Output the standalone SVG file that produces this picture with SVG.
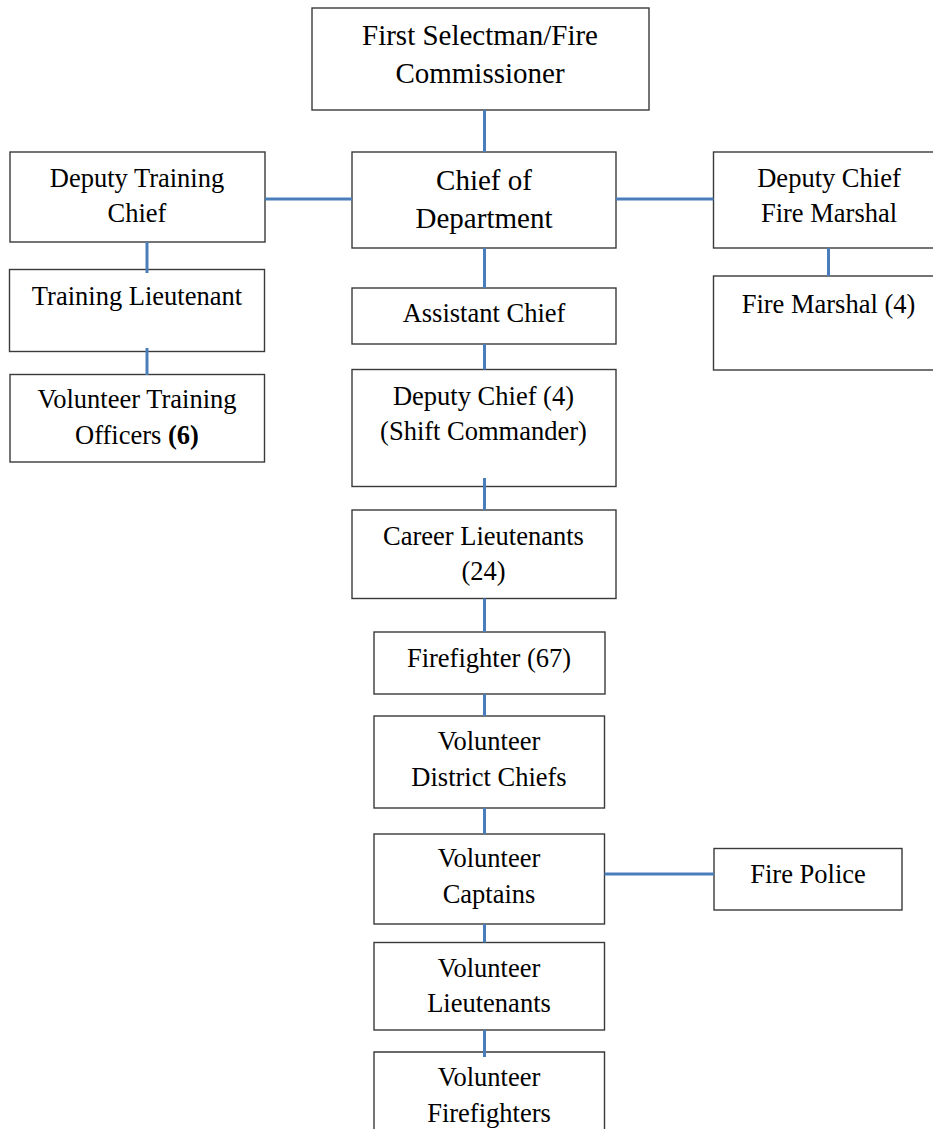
<svg xmlns="http://www.w3.org/2000/svg" width="933" height="1139" viewBox="0 0 933 1139">
  <style>
    .box { fill: #ffffff; stroke: #3a3a3a; stroke-width: 1.4; }
    .lbl { font-family: "Liberation Serif", "Times New Roman", serif; font-size: 26.5px; fill: #000000; text-anchor: middle; }
    .big { font-size: 29px; }
    .link { stroke: #4a7ebb; stroke-width: 3; fill: none; }
  </style>
  <rect width="933" height="1139" fill="#ffffff"/>

  <g id="first-selectman">
    <rect class="box" x="312" y="8" width="337" height="102"/>
    <text class="lbl big" x="480" y="45">First Selectman/Fire</text>
    <text class="lbl big" x="480" y="83">Commissioner</text>
  </g>

  <g id="chief-of-department">
    <rect class="box" x="352" y="152" width="264" height="96"/>
    <text class="lbl big" x="484" y="190">Chief of</text>
    <text class="lbl big" x="484" y="228">Department</text>
  </g>

  <g id="deputy-training-chief">
    <rect class="box" x="10" y="152" width="255" height="90"/>
    <text class="lbl" x="137" y="187">Deputy Training</text>
    <text class="lbl" x="137" y="222">Chief</text>
  </g>

  <g id="training-lieutenant">
    <rect class="box" x="9.5" y="269.5" width="255" height="82"/>
    <text class="lbl" x="137" y="305">Training Lieutenant</text>
  </g>

  <g id="volunteer-training-officers">
    <rect class="box" x="10" y="374.5" width="254.5" height="87.5"/>
    <text class="lbl" x="137" y="408">Volunteer Training</text>
    <text class="lbl" x="137" y="444">Officers <tspan font-weight="bold">(6)</tspan></text>
  </g>

  <g id="deputy-chief-fire-marshal">
    <rect class="box" x="713.5" y="152" width="232" height="96"/>
    <text class="lbl" x="829" y="187">Deputy Chief</text>
    <text class="lbl" x="829" y="222">Fire Marshal</text>
  </g>

  <g id="fire-marshal">
    <rect class="box" x="713.5" y="276" width="232" height="94"/>
    <text class="lbl" x="828.5" y="313">Fire Marshal (4)</text>
  </g>

  <g id="assistant-chief">
    <rect class="box" x="352" y="288" width="264" height="56"/>
    <text class="lbl" x="484" y="322">Assistant Chief</text>
  </g>

  <g id="deputy-chief-shift">
    <rect class="box" x="352" y="369.5" width="264" height="117"/>
    <text class="lbl" x="483.5" y="405">Deputy Chief (4)</text>
    <text class="lbl" x="483.5" y="440">(Shift Commander)</text>
  </g>

  <g id="career-lieutenants">
    <rect class="box" x="352" y="510" width="264" height="88.5"/>
    <text class="lbl" x="483.5" y="545">Career Lieutenants</text>
    <text class="lbl" x="483.5" y="580">(24)</text>
  </g>

  <g id="firefighter">
    <rect class="box" x="374" y="632" width="231" height="62"/>
    <text class="lbl" x="489" y="667">Firefighter (67)</text>
  </g>

  <g id="volunteer-district-chiefs">
    <rect class="box" x="374" y="716" width="230.5" height="92"/>
    <text class="lbl" x="489" y="750">Volunteer</text>
    <text class="lbl" x="489" y="786">District Chiefs</text>
  </g>

  <g id="volunteer-captains">
    <rect class="box" x="374" y="834" width="230.5" height="90"/>
    <text class="lbl" x="489" y="867">Volunteer</text>
    <text class="lbl" x="489" y="903">Captains</text>
  </g>

  <g id="fire-police">
    <rect class="box" x="714" y="848.5" width="188" height="61.5"/>
    <text class="lbl" x="808" y="883">Fire Police</text>
  </g>

  <g id="volunteer-lieutenants">
    <rect class="box" x="374" y="942.5" width="230.5" height="87.5"/>
    <text class="lbl" x="489" y="977">Volunteer</text>
    <text class="lbl" x="489" y="1012">Lieutenants</text>
  </g>

  <g id="volunteer-firefighters">
    <path class="box" d="M374,1129 V1052 H604.5 V1129"/>
    <text class="lbl" x="489" y="1086">Volunteer</text>
    <text class="lbl" x="489" y="1122">Firefighters</text>
  </g>

  <g id="connectors">
    <line class="link" x1="484.5" y1="110" x2="484.5" y2="152"/>
    <line class="link" x1="265" y1="199" x2="352" y2="199"/>
    <line class="link" x1="616" y1="199" x2="713.5" y2="199"/>
    <line class="link" x1="147" y1="242" x2="147" y2="273"/>
    <line class="link" x1="147" y1="348" x2="147" y2="375"/>
    <line class="link" x1="828.5" y1="248" x2="828.5" y2="276"/>
    <line class="link" x1="484.5" y1="248" x2="484.5" y2="288"/>
    <line class="link" x1="484.5" y1="344" x2="484.5" y2="369.5"/>
    <line class="link" x1="484.5" y1="478" x2="484.5" y2="510"/>
    <line class="link" x1="484.5" y1="598.5" x2="484.5" y2="632"/>
    <line class="link" x1="484.5" y1="694" x2="484.5" y2="716"/>
    <line class="link" x1="484.5" y1="808" x2="484.5" y2="834"/>
    <line class="link" x1="484.5" y1="924" x2="484.5" y2="942.5"/>
    <line class="link" x1="484.5" y1="1030" x2="484.5" y2="1057"/>
    <line class="link" x1="604.5" y1="874" x2="714" y2="874"/>
  </g>
</svg>
